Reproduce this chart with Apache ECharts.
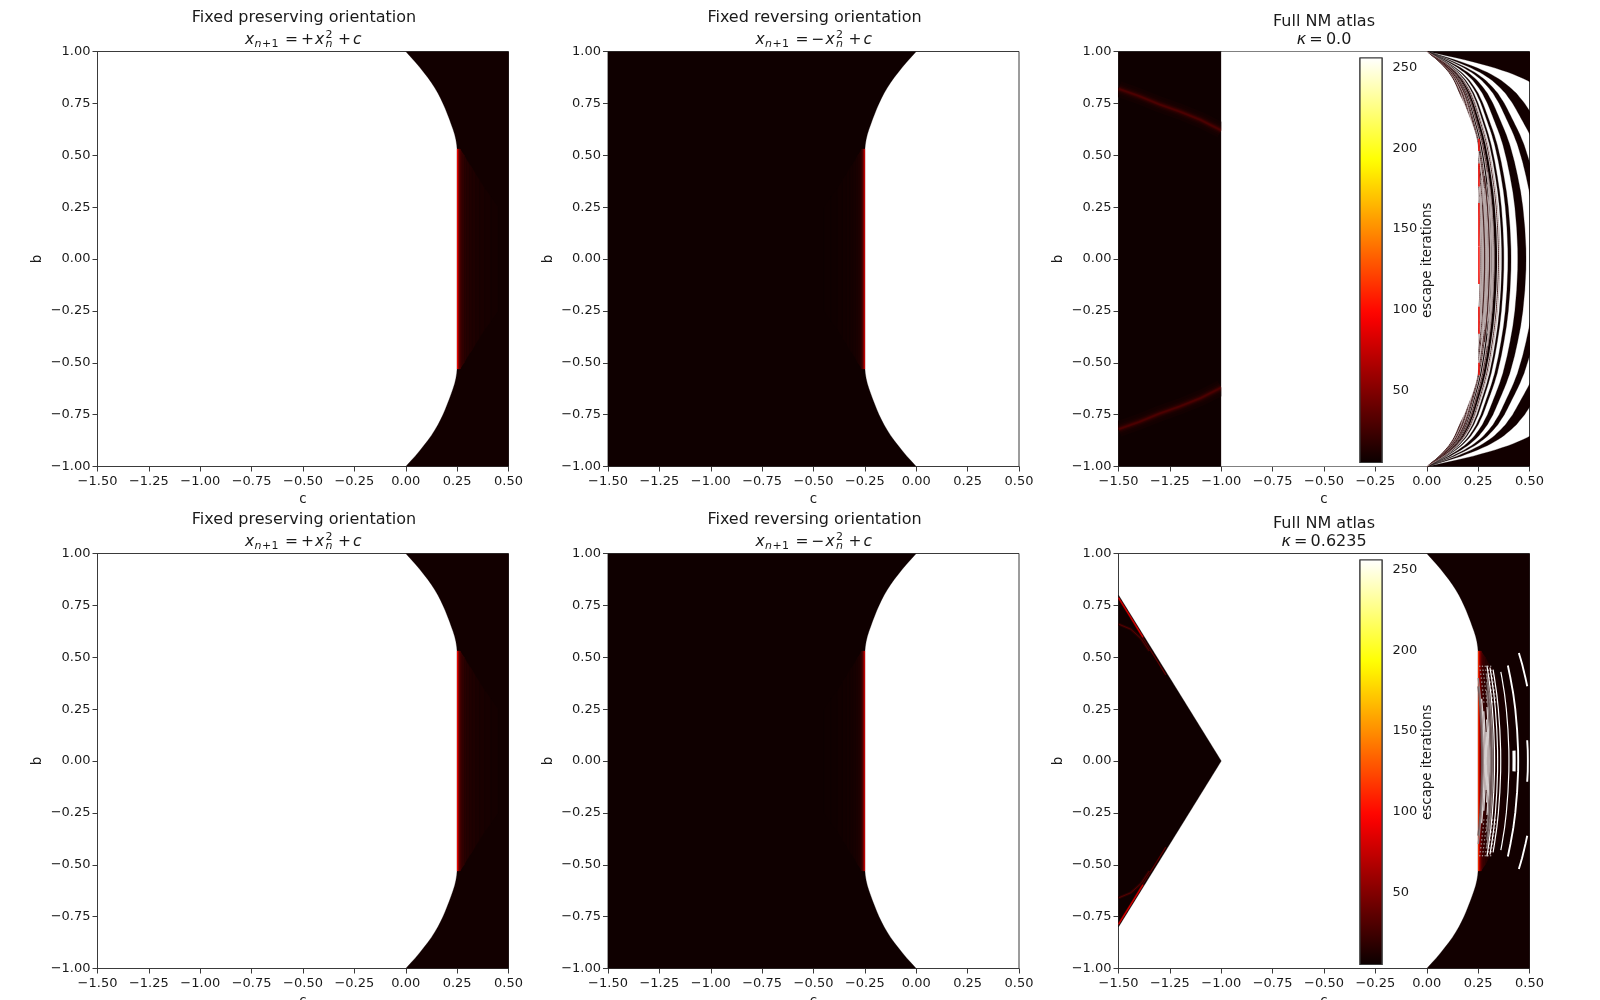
<!DOCTYPE html>
<html><head><meta charset="utf-8">
<style>html,body{margin:0;padding:0;background:#fff;overflow:hidden}#c{width:1600px;height:1000px}</style>
<script src="https://cdn.jsdelivr.net/npm/echarts@6/dist/echarts.min.js"></script>
</head><body><div id="c"></div>
<script>
// ---- values ----
const barTicks = [50,100,150,200,250];
const barMin = 5.4, barMax = 256;
const kappas = ['0.0','0.6235'];
// stability boundary (upper half, mirrored in b)
const envB = [1,0.975,0.95,0.925,0.9,0.875,0.85,0.825,0.8,0.775,0.75,0.725,0.7,0.675,0.65,0.625,0.6,0.575,0.55,0.525,0.5];
const envC = [0,0.023,0.046,0.067,0.087,0.107,0.125,0.141,0.156,0.169,0.181,0.192,0.202,0.212,0.221,0.23,0.238,0.244,0.248,0.25,0.25];
// shape of the fan of arcs, fraction of its c at b=0
const arcB = [1,0.975,0.95,0.925,0.9,0.875,0.855,0.83,0.8,0.75,0.714,0.65,0.603,0.55,0.469,0.4,0.324,0.25,0.15,0.05,0];
const arcG = [0,0.125,0.235,0.33,0.411,0.476,0.519,0.562,0.609,0.667,0.70,0.757,0.798,0.837,0.883,0.915,0.946,0.968,0.988,0.999,1];
// kappa=0 atlas: black bands between two arcs (c at b=0)
const bandInner = [0.964,0.627,0.528,0.443,0.395,0.365,0.33,0.312];
const bandOuter = [200,0.714,0.566,0.483,0.41,0.375,0.342,0.318];
const fineArcs = [0.262,0.268,0.274,0.281,0.287,0.293,0.299,0.305,0.322,0.326,0.349,0.356];
const greyArcC0 = [0.264,0.27,0.276,0.282,0.288,0.294,0.30,0.306,0.312,0.318,0.324];
const greyArcH = [0.34,0.3,0.36,0.26,0.38,0.3,0.34,0.4,0.3,0.36,0.42];
const redDashLow = [0.35,0.06,-0.12,-0.36,0.52,-0.56];
const redDashHigh = [0.46,0.27,0.06,-0.23,0.58,-0.50];
// glow along the line c=0.25 (offset from it, escape iterations, half height)
const glowOff = [0,0.005,0.01,0.015,0.02,0.027,0.035,0.045,0.058,0.073,0.09,0.11,0.135,0.165,0.2];
const glowVal = [100,62,40,30,24,20,17,15,13.5,12.5,11.5,10.8,10,9.2];
const glowVal6 = [118,78,50,36,28,22,18,15.5,14,12.5,11.5,10.8,10,9.2];
const glowExt = [0.53,0.53,0.53,0.53,0.52,0.51,0.5,0.48,0.46,0.44,0.41,0.38,0.34,0.3,0.25];
const glowValRev = [82,52,32,22,16,13,11,10,9.2,8.8,8.4,8,7.6,7.3];
const baseVal = 8, revVal = 7;
// kappa=0 left block
const blockVal = 6.6;
const ridgeC = [-1.5,-1.4,-1.3,-1.2,-1.1,-1];
const ridgeB = [0.82,0.785,0.745,0.71,0.67,0.62];
// kappa=0.6235 left wedge
const wedgeC = [-1.5,-1];
const wedgeB = [0.8,0];
const edgeC = [-1.5,-1.44,-1.38];
const edgeB = [0.787,0.692,0.596];
const edgeFarC = [-1.5,-1.44,-1.38,-1.32,-1.27];
const edgeFarB = [0.782,0.687,0.59,0.495,0.415];
const innerC = [-1.5,-1.44,-1.39,-1.35];
const innerB = [0.66,0.635,0.59,0.53];
// kappa=0.6235 white rings (c at b=0, range of |b|)
const ringC0 = [0.525,0.492,0.445,0.425,0.40,0.36,0.33,0.345];
const ringLow = [0.36,0,0,0,0,0,0,0];
const ringHigh = [0.52,0.1,0.46,0.05,0.43,0.44,0.46,0.45];
const blobArcC0 = [0.268,0.274,0.28,0.286,0.292,0.298,0.304,0.31,0.316,0.322];
const blobArcH = [0.36,0.4,0.3,0.24,0.14,0.2,0.26,0.34,0.38,0.42];
const stippleC0 = [0.29,0.305,0.32,0.335,0.35];

// ---- helpers ----
function hot(v){
  const t=(v-barMin)/(barMax-barMin), cl=x=>Math.max(0,Math.min(1,x));
  const r=cl(0.0416+t/0.365*0.9584), g=cl((t-0.365)/0.381), b=cl((t-0.746)/0.254);
  return 'rgb('+[r,g,b].map(x=>Math.round(x*255)).join(',')+')';
}
function interp(xs,ys,x){
  for(let i=0;i<xs.length-1;i++){
    if((x<=xs[i]&&x>=xs[i+1])){const f=(x-xs[i])/(xs[i+1]-xs[i]);return ys[i]+f*(ys[i+1]-ys[i]);}
  }
  return ys[ys.length-1];
}
const envUpper = envB.map((b,i)=>[envC[i],b]);
const envRight = envUpper.concat(envUpper.slice().reverse().map(p=>[p[0],-p[1]]));
function arcPts(c0,lo,hi){ // upper part between |b|=lo and hi
  const pts=[]; for(let b=hi;b>=lo-1e-6;b-=0.01){pts.push([c0*interp(arcB,arcG,Math.abs(b)),b]);}
  return pts;
}
function fullArc(c0,h){const u=arcPts(c0,0,h===undefined?1:h);return u.concat(u.slice(0,-1).reverse().map(p=>[p[0],-p[1]]));}
function poly(pts,fill){return {pts,fill};}
function line(pts,stroke,width,dash){return {pts,stroke,width,dash};}
function bothSides(pts){return [pts,pts.map(p=>[p[0],-p[1]])];}

function glowStrips(sign,vals){
  const out=[];
  vals.forEach((v,i)=>{
    const a=sign*(0.25+glowOff[i]), z=sign*(0.25+glowOff[i+1]), h=glowExt[i], k=glowExt[i+1];
    out.push(poly([[a,h],[z,k],[z,-k],[a,-h]],hot(v)));
  });
  return out;
}
function panelPreserving(){
  return [poly(envRight.concat([[0.5,-1],[0.5,1]]),hot(baseVal)),...glowStrips(1,glowVal)];
}
function panelReversing(){
  const env=envRight.map(p=>[-p[0],p[1]]);
  return [poly(env.concat([[-1.5,-1],[-1.5,1]]),hot(revVal)),...glowStrips(-1,glowValRev)];
}
function ridge(cs,bs,layers){
  const pts=cs.map((c,i)=>[c,bs[i]]),out=[];
  layers.forEach(l=>bothSides(pts).forEach(p=>out.push(line(p,hot(l[0]),l[1]))));
  return out;
}
function panelAtlas0(){
  const out=[poly([[-1.5,1],[-1,1],[-1,-1],[-1.5,-1]],hot(blockVal))];
  out.push(...ridge(ridgeC,ridgeB,[[8.5,16],[10,11],[13,7.5],[18,5],[24,3],[30,1.6]]));
  bandInner.forEach((k,i)=>{
    const a=fullArc(k),z=fullArc(bandOuter[i]).reverse();
    out.push(poly(a.concat(z),hot(baseVal)));
  });
  fineArcs.forEach((k,i)=>out.push(line(fullArc(k),i%3==2?'#b09a9a':'#3a1212',i%3==2?0.8:0.9)));
  greyArcC0.forEach((k,i)=>out.push(line(fullArc(k,greyArcH[i]),i%4==3?'#4a2525':'#b8a9a9',1.3)));
  // mask everything left of the stability boundary
  out.push(poly(envRight.concat([[-0.999,-1],[-0.999,1]]),'#ffffff'));
  redDashLow.forEach((lo,i)=>out.push(line([[0.254,lo],[0.254,redDashHigh[i]]],'#f0160e',1.6)));
  return out;
}
function panelAtlas1(){
  const out=[poly([[wedgeC[0],wedgeB[0]],[wedgeC[1],wedgeB[1]],[wedgeC[0],-wedgeB[0]]],hot(revVal))];
  out.push(...ridge(edgeFarC,edgeFarB,[[38,1.2]]));
  out.push(...ridge(edgeC,edgeB,[[80,1.3]]));
  out.push(...ridge(innerC,innerB,[[16,3],[34,1]]));
  out.push(poly(envRight.concat([[0.5,-1],[0.5,1]]),hot(baseVal)));
  out.push(...glowStrips(1,glowVal6));
  stippleC0.forEach(k=>bothSides(arcPts(k,0.28,0.46)).forEach(p=>out.push(line(p,'#9a8a8a',1.2,[1.5,2.5]))));
  blobArcC0.forEach((k,i)=>out.push(line(fullArc(k,blobArcH[i]),i>=2&&i<=6?'#d6cfcf':(i%2?'#8f7f7f':'#6d5a5a'),1.4)));
  ringC0.forEach((k,i)=>{
    const p=arcPts(k,ringLow[i],ringHigh[i]);
    const w=(i==3)?3.2:(i==2||i==0||i==1)?1.9:1.2;
    if(ringLow[i]===0) out.push(line(p.concat(p.slice(0,-1).reverse().map(q=>[q[0],-q[1]])),'#ffffff',w));
    else bothSides(p).forEach(q=>out.push(line(q,'#ffffff',w)));
  });
  return out;
}

// ---- layout ----
const lefts=[97.5,608,1118.5], W=411, tops=[51.5,553.5], H=415;
const centres=lefts.map(l=>l+W/2);
const grids=[],xAxes=[],yAxes=[],series=[],titles=[],graphics=[];
const FF='"DejaVu Sans"', TC='#1a1a1a', LC='#3a3a3a';
const fmt=v=>v.toFixed(2).replace('-','\u2212');

function addSeries(idx,prims){
  series.push({type:'custom',xAxisIndex:idx,yAxisIndex:idx,clip:true,silent:true,animation:false,
    coordinateSystem:'cartesian2d',
    data:prims.map(p=>p.pts[0]),
    renderItem:(params,api)=>{
      const p=prims[params.dataIndex],pts=p.pts.map(q=>api.coord(q));
      if(p.fill) return {type:'polygon',shape:{points:pts},style:{fill:p.fill,stroke:p.fill,lineWidth:0.3}};
      return {type:'polyline',shape:{points:pts},style:{stroke:p.stroke,lineWidth:p.width,lineDash:p.dash||null,fill:'none'}};
    }});
}
function mathTitle(cx,y,sign){
  const s=(t,dx,dy,size,it)=>graphics.push({type:'text',x:cx+dx,y:y+dy,silent:true,style:{text:t,fill:TC,
    font:(it?'italic ':'')+size+'px '+FF,textAlign:'left',textVerticalAlign:'middle'}});
  s('x',-58,0,15.5,true); s('n',-48.5,4,11,true); s('+',-41,4,11,false); s('1',-31.5,4,11,false);
  s('=',-18,0,15.5,false); s(sign,-2,0,15.5,false); s('x',12,0,15.5,true); s('2',22.5,-5,11,false); s('n',22.5,4,11,true);
  s('+',35,0,15.5,false); s('c',50,0,15.5,true);
}
const panelFns=[panelPreserving,panelReversing];
let ax=0;
tops.forEach((top,r)=>{
  lefts.forEach((left,col)=>{
    grids.push({left,top,width:W,height:H,show:true,borderColor:LC,borderWidth:1,backgroundColor:'#fff',outerBoundsMode:'none'});
    xAxes.push({type:'value',gridIndex:ax,min:-1.5,max:0.5,interval:0.25,name:'c',nameLocation:'middle',nameGap:26.5,
      nameTextStyle:{fontFamily:FF,fontSize:13.4,color:TC},
      axisLine:{show:true,onZero:false,lineStyle:{color:LC,width:1}},axisTick:{show:true,length:5,lineStyle:{color:LC,width:1}},
      splitLine:{show:false},axisLabel:{formatter:fmt,fontFamily:FF,fontSize:13,color:TC,margin:8.5,hideOverlap:false,showMinLabel:true,showMaxLabel:true}});
    yAxes.push({type:'value',gridIndex:ax,min:-1,max:1,interval:0.25,name:'b',nameLocation:'middle',nameGap:53,nameRotate:90,
      nameTextStyle:{fontFamily:FF,fontSize:13.4,color:TC},
      axisLine:{show:true,onZero:false,lineStyle:{color:LC,width:1}},axisTick:{show:true,length:5,lineStyle:{color:LC,width:1}},
      splitLine:{show:false},axisLabel:{formatter:fmt,fontFamily:FF,fontSize:13,color:TC,margin:7,showMinLabel:true,showMaxLabel:true}});
    const cx=centres[col];
    const t2=top-11.5;
    const tStyle={fontFamily:FF,fontSize:16,fontWeight:'normal',color:TC};
    if(col<2){
      titles.push({text:col==0?'Fixed preserving orientation':'Fixed reversing orientation',left:cx+1,top:top-42,padding:0,textAlign:'center',textStyle:tStyle});
      mathTitle(cx,t2,col==0?'+':'\u2212');
      addSeries(ax,panelFns[col]());
    } else {
      titles.push({text:'Full NM atlas',left:cx,top:top-37.5,padding:0,textAlign:'center',textStyle:tStyle});
      titles.push({text:'{i|\u03ba}\u2009=\u2009'+kappas[r],left:cx,top:top-19.5,padding:0,textAlign:'center',
        textStyle:Object.assign({},tStyle,{rich:{i:{fontFamily:FF,fontStyle:'italic',fontSize:16,color:TC}}})});
      addSeries(ax,r==0?panelAtlas0():panelAtlas1());
    }
    ax++;
  });
  // colour bar
  const barTop=top+6.5, barH=404.5;
  grids.push({left:1360,top:barTop,width:22,height:barH,show:true,borderColor:LC,borderWidth:1.2,z:5,backgroundColor:'#fff',outerBoundsMode:'none'});
  xAxes.push({type:'value',gridIndex:ax,min:0,max:1,show:false,z:5});
  yAxes.push({type:'value',gridIndex:ax,min:barMin,max:barMax,position:'right',z:5,name:'escape iterations',nameLocation:'middle',nameGap:34,nameRotate:90,
    nameTextStyle:{fontFamily:FF,fontSize:13.4,color:TC},
    axisLine:{show:false},splitLine:{show:false},
    axisTick:{show:true,length:5,customValues:barTicks,lineStyle:{color:LC,width:1}},
    axisLabel:{customValues:barTicks,fontFamily:FF,fontSize:13,color:TC,margin:10.5}});
  const stops=[];for(let i=0;i<=40;i++){const f=i/40;stops.push({offset:f,color:hot(barMax-f*(barMax-barMin))});}
  series.push({type:'custom',xAxisIndex:ax,yAxisIndex:ax,z:6,silent:true,animation:false,data:[[0,barMin]],
    renderItem:(params,api)=>{
      const a=api.coord([0,barMax]),b=api.coord([1,barMin]);
      return {type:'rect',shape:{x:a[0],y:a[1],width:b[0]-a[0],height:b[1]-a[1]},
        style:{fill:new echarts.graphic.LinearGradient(0,0,0,1,stops),stroke:LC,lineWidth:1.2}};
    }});
  ax++;
});
const chart=echarts.init(document.getElementById('c'),null,{renderer:'canvas',width:1600,height:1000});
chart.setOption({animation:false,backgroundColor:'#ffffff',title:titles,grid:grids,xAxis:xAxes,yAxis:yAxes,series,graphic:{elements:graphics}});
</script></body></html>
